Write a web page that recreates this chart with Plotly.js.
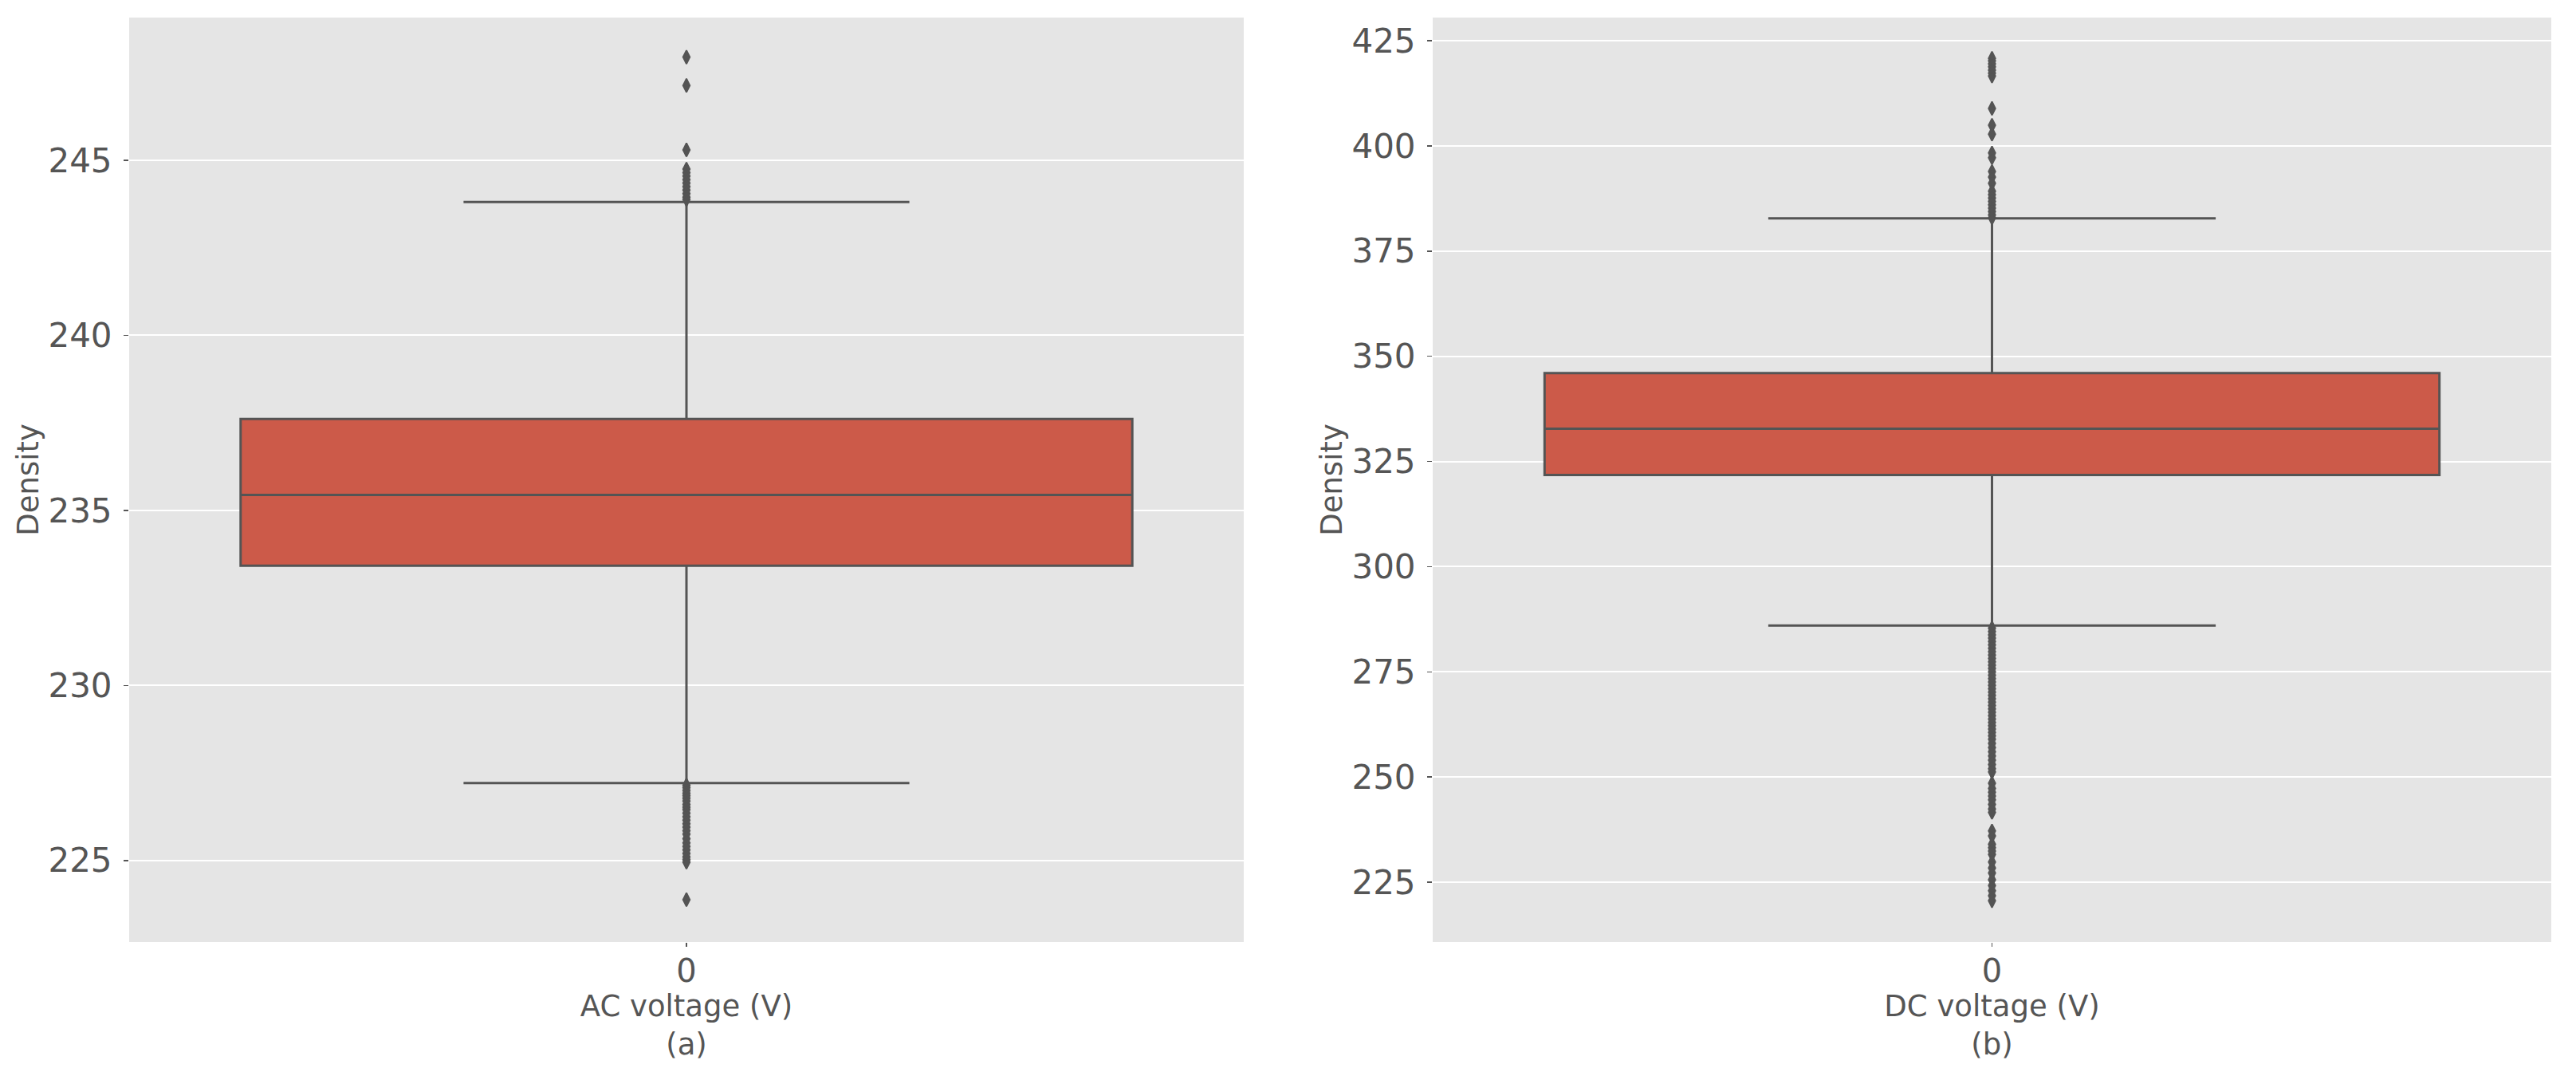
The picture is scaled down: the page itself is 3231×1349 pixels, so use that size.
<!DOCTYPE html>
<html>
<head>
<meta charset="utf-8">
<script src="https://cdn.plot.ly/plotly-3.0.1.min.js"></script>
<style>html,body{margin:0;padding:0;background:#fff;}#chart{width:3231px;height:1349px;}</style>
</head>
<body>
<div id="chart"></div>
<script>
// ---- data ----
const categories = ["0"];
const xTitles = ["AC voltage (V)<br>(a)", "DC voltage (V)<br>(b)"];
const yTitle = "Density";

// AC voltage box statistics
const acQ1 = [233.42];
const acMedian = [235.44];
const acQ3 = [237.61];
const acLowerFence = [227.21];
const acUpperFence = [243.81];
const acOutliers = [247.95, 247.14, 245.30, 244.75, 244.65, 244.55, 244.45, 244.35, 244.25, 244.15, 244.05, 243.95, 243.88,
  227.15, 227.08, 227.0, 226.92, 226.85, 226.78, 226.7, 226.6, 226.52, 226.45, 226.35, 226.25, 226.15, 226.05, 225.95,
  225.85, 225.75, 225.62, 225.5, 225.4, 225.3, 225.2, 225.1, 225.02, 224.95, 223.88];

// DC voltage box statistics
const dcQ1 = [321.8];
const dcMedian = [332.8];
const dcQ3 = [346.0];
const dcLowerFence = [286.0];
const dcUpperFence = [382.8];
const dcOutliers = [420.8, 420.2, 419.5, 418.8, 418.0, 417.3, 416.6, 408.9, 404.9, 402.8, 398.3, 397.2, 393.9, 392.6, 391.1,
  389.2, 388.4, 387.6, 386.8, 386.0, 385.2, 384.4, 383.6, 382.9,
  285.4, 284.6, 283.8, 283.0, 282.2, 281.4, 280.6, 279.8, 279.0, 278.2, 277.4, 276.6, 275.8, 275.0, 274.2, 273.4, 272.6,
  271.8, 271.0, 270.2, 269.4, 268.6, 267.8, 267.0, 266.2, 265.4, 264.6, 263.8, 263.0, 262.2, 261.4, 260.6, 259.8, 259.0,
  258.0, 257.0, 256.0, 255.0, 254.0, 253.0, 252.0, 251.2,
  248.5, 247.3, 246.4, 245.5, 244.6, 243.5, 242.4, 241.6,
  237.2, 236.0, 234.0, 233.2, 232.4, 231.6, 229.8, 228.4, 227.2, 225.6, 224.2, 223.0, 221.8, 220.6];

const yRanges = [[222.67, 249.08], [210.8, 430.5]];

// ---- styling ----
const boxFill = "rgb(204,90,73)";
const lineGray = "#545454";
const textGray = "#555555";
const font = "DejaVu Sans, sans-serif";

function boxTrace(q1, med, q3, lf, uf, xa, ya) {
  return {
    type: "box", x: [0], q1: q1, median: med, q3: q3, lowerfence: lf, upperfence: uf,
    width: 0.8, whiskerwidth: 0.5, boxpoints: false,
    fillcolor: boxFill, line: {color: lineGray, width: 3},
    xaxis: xa, yaxis: ya, showlegend: false, hoverinfo: "skip"
  };
}
function outlierTrace(vals, xa, ya) {
  return {
    type: "scatter", mode: "markers", x: vals.map(() => 0), y: vals,
    marker: {symbol: "diamond-tall", size: 12, color: lineGray, line: {color: lineGray, width: 2}},
    xaxis: xa, yaxis: ya, showlegend: false, hoverinfo: "skip"
  };
}

const data = [
  boxTrace(acQ1, acMedian, acQ3, acLowerFence, acUpperFence, "x", "y"),
  outlierTrace(acOutliers, "x", "y"),
  boxTrace(dcQ1, dcMedian, dcQ3, dcLowerFence, dcUpperFence, "x2", "y2"),
  outlierTrace(dcOutliers, "x2", "y2")
];

function xAxis(domain, title, anchor) {
  return {
    domain: domain, anchor: anchor, range: [-0.5, 0.5], tickmode: "array", tickvals: [0], ticktext: categories,
    showgrid: false, zeroline: false, showline: false,
    ticks: "outside", ticklen: 5, tickwidth: 1.5, tickcolor: textGray, ticklabelstandoff: -4,
    tickfont: {family: font, size: 40, color: textGray},
    title: {text: title, font: {family: font, size: 37, color: textGray}, standoff: 2},
    automargin: false, fixedrange: true
  };
}
function yAxis(domain, range, dtick, anchor) {
  return {
    domain: domain, anchor: anchor, range: range, dtick: dtick, tick0: 0,
    showgrid: true, gridcolor: "#ffffff", gridwidth: 2, zeroline: false, showline: false,
    ticks: "outside", ticklen: 6, tickwidth: 1.5, tickcolor: textGray, ticklabelstandoff: 6,
    tickfont: {family: font, size: 42, color: textGray},
    title: {text: yTitle, font: {family: font, size: 37, color: textGray}, standoff: 0},
    automargin: false, fixedrange: true
  };
}

const yDom = [1 - 1181 / 1349, 1 - 22 / 1349];
const layout = {
  width: 3231, height: 1349, autosize: false,
  margin: {l: 0, r: 0, t: 0, b: 0},
  paper_bgcolor: "#ffffff", plot_bgcolor: "#E5E5E5",
  font: {family: font, color: textGray},
  xaxis: xAxis([162 / 3231, 1560 / 3231], xTitles[0], "y"),
  yaxis: yAxis(yDom, yRanges[0], 5, "x"),
  xaxis2: xAxis([1797 / 3231, 3200 / 3231], xTitles[1], "y2"),
  yaxis2: yAxis(yDom, yRanges[1], 25, "x2"),
  showlegend: false
};

Plotly.newPlot("chart", data, layout, {staticPlot: true, displayModeBar: false});
</script>
</body>
</html>
